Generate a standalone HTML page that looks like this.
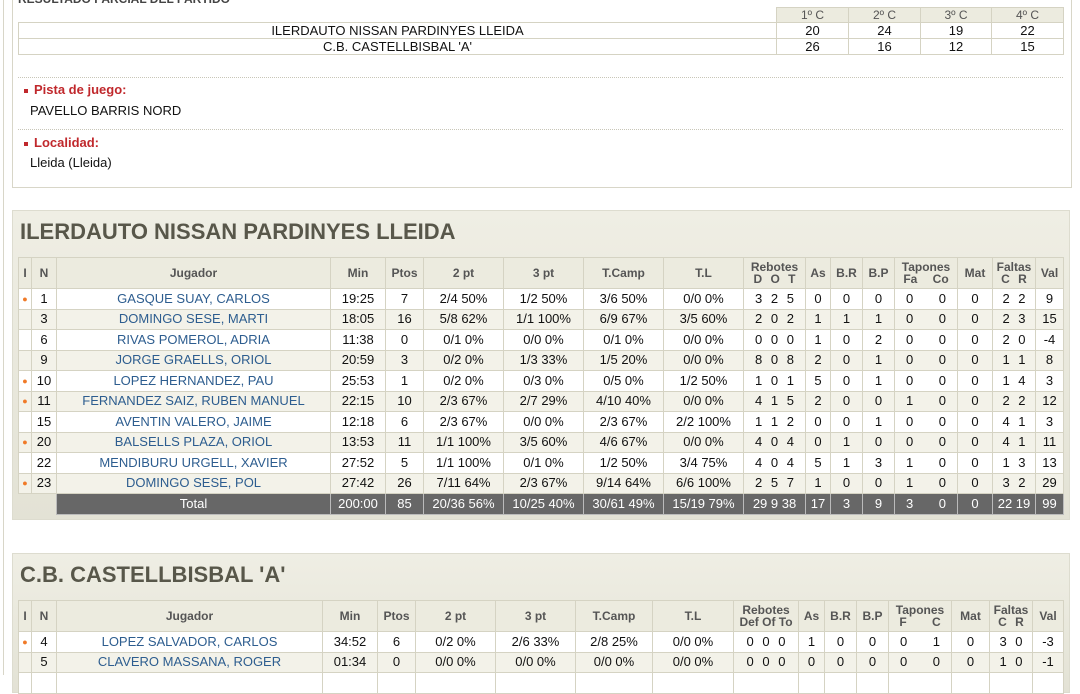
<!DOCTYPE html>
<html><head><meta charset="utf-8"><style>
*{margin:0;padding:0;box-sizing:border-box}
body{width:1080px;height:675px;overflow:hidden;background:#fff;font-family:"Liberation Sans",Arial,sans-serif;font-size:13px;color:#222;position:relative}
.vline{position:absolute;left:3px;top:0;width:1px;height:675px;background:#d8d6c8}
.box{position:absolute;left:12px;top:-10px;width:1060px;height:198px;border:1px solid #d8d6c8;background:#fff}
.rtitle{position:absolute;left:18px;top:-8px;font-weight:bold;font-size:12px;color:#444}
table{border-collapse:collapse;table-layout:fixed;position:absolute}
td{border:1px solid #d5d3c3;text-align:center;white-space:nowrap;overflow:hidden}
.q td{height:16px;font-size:13px;line-height:14px;color:#111}
.q .h td{background:#ecebdf;color:#555;font-size:12px;height:14px}
.dot{position:absolute;left:18px;width:1045px;border-top:1px dotted #c8c6b8}
.lab{position:absolute;left:24px;color:#c0282c;font-weight:bold;font-size:13px}
.lab:before{content:"";display:inline-block;width:4px;height:4px;background:#c0282c;margin-right:6px;vertical-align:middle}
.val{position:absolute;left:30px;font-size:13px;color:#111}
.panel{position:absolute;left:12px;width:1058px;background:linear-gradient(#efeee4,#e3e2d5);border:1px solid #dddccf}
.ptitle{position:absolute;left:7px;font-size:22px;font-weight:bold;color:#58574a}
.st td{height:20.5px;font-size:13px;line-height:14px;color:#111}
.st tr.h td{background:#ecebdf;color:#555;font-weight:bold;font-size:12px;height:31px;line-height:12px}
.st tr.w td{background:#fff}
.st tr.b td{background:#f3f2e9}
.st td.n{color:#2d5d8f}
.st tr.t td{background:#676767;color:#fff;border-color:#bbb}
.st tr.t td.e{background:transparent;border:none}
.st td.o{color:#f07a28;font-size:9px}
.sp{word-spacing:5px}
</style></head><body>
<div class="vline"></div>
<div class="box"></div>
<div class="rtitle">RESULTADO PARCIAL DEL PARTIDO</div>
<table class="q" style="left:18px;top:7px;width:1045px">
<colgroup><col style="width:758px"><col style="width:72px"><col style="width:72px"><col style="width:71px"><col style="width:72px"></colgroup>
<tr class="h"><td style="border:none;border-bottom:1px solid #d5d3c3;background:#fff"></td><td>1º C</td><td>2º C</td><td>3º C</td><td>4º C</td></tr>
<tr><td>ILERDAUTO NISSAN PARDINYES LLEIDA</td><td>20</td><td>24</td><td>19</td><td>22</td></tr>
<tr><td>C.B. CASTELLBISBAL 'A'</td><td>26</td><td>16</td><td>12</td><td>15</td></tr>
</table>
<div class="dot" style="top:77px"></div>
<div class="lab" style="top:82px">Pista de juego:</div>
<div class="val" style="top:103px">PAVELLO BARRIS NORD</div>
<div class="dot" style="top:129px"></div>
<div class="lab" style="top:135px">Localidad:</div>
<div class="val" style="top:155px">Lleida (Lleida)</div>

<div class="panel" style="top:210px;height:310px"><div class="ptitle" style="top:8px">ILERDAUTO NISSAN PARDINYES LLEIDA</div></div>
<table class="st" style="left:18px;top:257px;width:1045px">
<colgroup><col style="width:13px"><col style="width:25px"><col style="width:274px"><col style="width:55px"><col style="width:38px"><col style="width:80px"><col style="width:80px"><col style="width:80px"><col style="width:80px"><col style="width:62px"><col style="width:25px"><col style="width:32px"><col style="width:32px"><col style="width:63px"><col style="width:35px"><col style="width:43px"><col style="width:28px"></colgroup>
<tr class="h"><td>I</td><td>N</td><td>Jugador</td><td>Min</td><td>Ptos</td><td>2 pt</td><td>3 pt</td><td>T.Camp</td><td>T.L</td><td>Rebotes<br><span class="sp">D O T</span></td><td>As</td><td>B.R</td><td>B.P</td><td>Tapones<br><span style="word-spacing:12px">Fa Co</span></td><td>Mat</td><td>Faltas<br><span class="sp">C R</span></td><td>Val</td></tr>
<tr class="w"><td class="o">●</td><td>1</td><td class="n">GASQUE SUAY, CARLOS</td><td>19:25</td><td>7</td><td>2/4 50%</td><td>1/2 50%</td><td>3/6 50%</td><td>0/0 0%</td><td class="sp">3 2 5</td><td>0</td><td>0</td><td>0</td><td style="word-spacing:22px">0 0</td><td>0</td><td class="sp">2 2</td><td>9</td></tr>
<tr class="b"><td></td><td>3</td><td class="n">DOMINGO SESE, MARTI</td><td>18:05</td><td>16</td><td>5/8 62%</td><td>1/1 100%</td><td>6/9 67%</td><td>3/5 60%</td><td class="sp">2 0 2</td><td>1</td><td>1</td><td>1</td><td style="word-spacing:22px">0 0</td><td>0</td><td class="sp">2 3</td><td>15</td></tr>
<tr class="w"><td></td><td>6</td><td class="n">RIVAS POMEROL, ADRIA</td><td>11:38</td><td>0</td><td>0/1 0%</td><td>0/0 0%</td><td>0/1 0%</td><td>0/0 0%</td><td class="sp">0 0 0</td><td>1</td><td>0</td><td>2</td><td style="word-spacing:22px">0 0</td><td>0</td><td class="sp">2 0</td><td>-4</td></tr>
<tr class="b"><td></td><td>9</td><td class="n">JORGE GRAELLS, ORIOL</td><td>20:59</td><td>3</td><td>0/2 0%</td><td>1/3 33%</td><td>1/5 20%</td><td>0/0 0%</td><td class="sp">8 0 8</td><td>2</td><td>0</td><td>1</td><td style="word-spacing:22px">0 0</td><td>0</td><td class="sp">1 1</td><td>8</td></tr>
<tr class="w"><td class="o">●</td><td>10</td><td class="n">LOPEZ HERNANDEZ, PAU</td><td>25:53</td><td>1</td><td>0/2 0%</td><td>0/3 0%</td><td>0/5 0%</td><td>1/2 50%</td><td class="sp">1 0 1</td><td>5</td><td>0</td><td>1</td><td style="word-spacing:22px">0 0</td><td>0</td><td class="sp">1 4</td><td>3</td></tr>
<tr class="b"><td class="o">●</td><td>11</td><td class="n">FERNANDEZ SAIZ, RUBEN MANUEL</td><td>22:15</td><td>10</td><td>2/3 67%</td><td>2/7 29%</td><td>4/10 40%</td><td>0/0 0%</td><td class="sp">4 1 5</td><td>2</td><td>0</td><td>0</td><td style="word-spacing:22px">1 0</td><td>0</td><td class="sp">2 2</td><td>12</td></tr>
<tr class="w"><td></td><td>15</td><td class="n">AVENTIN VALERO, JAIME</td><td>12:18</td><td>6</td><td>2/3 67%</td><td>0/0 0%</td><td>2/3 67%</td><td>2/2 100%</td><td class="sp">1 1 2</td><td>0</td><td>0</td><td>1</td><td style="word-spacing:22px">0 0</td><td>0</td><td class="sp">4 1</td><td>3</td></tr>
<tr class="b"><td class="o">●</td><td>20</td><td class="n">BALSELLS PLAZA, ORIOL</td><td>13:53</td><td>11</td><td>1/1 100%</td><td>3/5 60%</td><td>4/6 67%</td><td>0/0 0%</td><td class="sp">4 0 4</td><td>0</td><td>1</td><td>0</td><td style="word-spacing:22px">0 0</td><td>0</td><td class="sp">4 1</td><td>11</td></tr>
<tr class="w"><td></td><td>22</td><td class="n">MENDIBURU URGELL, XAVIER</td><td>27:52</td><td>5</td><td>1/1 100%</td><td>0/1 0%</td><td>1/2 50%</td><td>3/4 75%</td><td class="sp">4 0 4</td><td>5</td><td>1</td><td>3</td><td style="word-spacing:22px">1 0</td><td>0</td><td class="sp">1 3</td><td>13</td></tr>
<tr class="b"><td class="o">●</td><td>23</td><td class="n">DOMINGO SESE, POL</td><td>27:42</td><td>26</td><td>7/11 64%</td><td>2/3 67%</td><td>9/14 64%</td><td>6/6 100%</td><td class="sp">2 5 7</td><td>1</td><td>0</td><td>0</td><td style="word-spacing:22px">1 0</td><td>0</td><td class="sp">3 2</td><td>29</td></tr>
<tr class="t"><td class="e"></td><td class="e"></td><td>Total</td><td>200:00</td><td>85</td><td>20/36 56%</td><td>10/25 40%</td><td>30/61 49%</td><td>15/19 79%</td><td>29 9 38</td><td>17</td><td>3</td><td>9</td><td style="word-spacing:22px">3 0</td><td>0</td><td>22 19</td><td>99</td></tr>
</table>

<div class="panel" style="top:553px;height:140px"><div class="ptitle" style="top:8px">C.B. CASTELLBISBAL 'A'</div></div>
<table class="st" style="left:18px;top:600px;width:1045px">
<colgroup><col style="width:13px"><col style="width:25px"><col style="width:266px"><col style="width:55px"><col style="width:38px"><col style="width:80px"><col style="width:80px"><col style="width:77px"><col style="width:81px"><col style="width:65px"><col style="width:26px"><col style="width:32px"><col style="width:32px"><col style="width:63px"><col style="width:38px"><col style="width:43px"><col style="width:31px"></colgroup>
<tr class="h"><td>I</td><td>N</td><td>Jugador</td><td>Min</td><td>Ptos</td><td>2 pt</td><td>3 pt</td><td>T.Camp</td><td>T.L</td><td>Rebotes<br>Def Of To</td><td>As</td><td>B.R</td><td>B.P</td><td>Tapones<br><span style="word-spacing:22px">F C</span></td><td>Mat</td><td>Faltas<br><span class="sp">C R</span></td><td>Val</td></tr>
<tr class="w"><td class="o">●</td><td>4</td><td class="n">LOPEZ SALVADOR, CARLOS</td><td>34:52</td><td>6</td><td>0/2 0%</td><td>2/6 33%</td><td>2/8 25%</td><td>0/0 0%</td><td class="sp">0 0 0</td><td>1</td><td>0</td><td>0</td><td style="word-spacing:22px">0 1</td><td>0</td><td class="sp">3 0</td><td>-3</td></tr>
<tr class="b"><td></td><td>5</td><td class="n">CLAVERO MASSANA, ROGER</td><td>01:34</td><td>0</td><td>0/0 0%</td><td>0/0 0%</td><td>0/0 0%</td><td>0/0 0%</td><td class="sp">0 0 0</td><td>0</td><td>0</td><td>0</td><td style="word-spacing:22px">0 0</td><td>0</td><td class="sp">1 0</td><td>-1</td></tr>
<tr class="w"><td></td><td></td><td></td><td></td><td></td><td></td><td></td><td></td><td></td><td></td><td></td><td></td><td></td><td></td><td></td><td></td><td></td></tr>
</table>
</body></html>
